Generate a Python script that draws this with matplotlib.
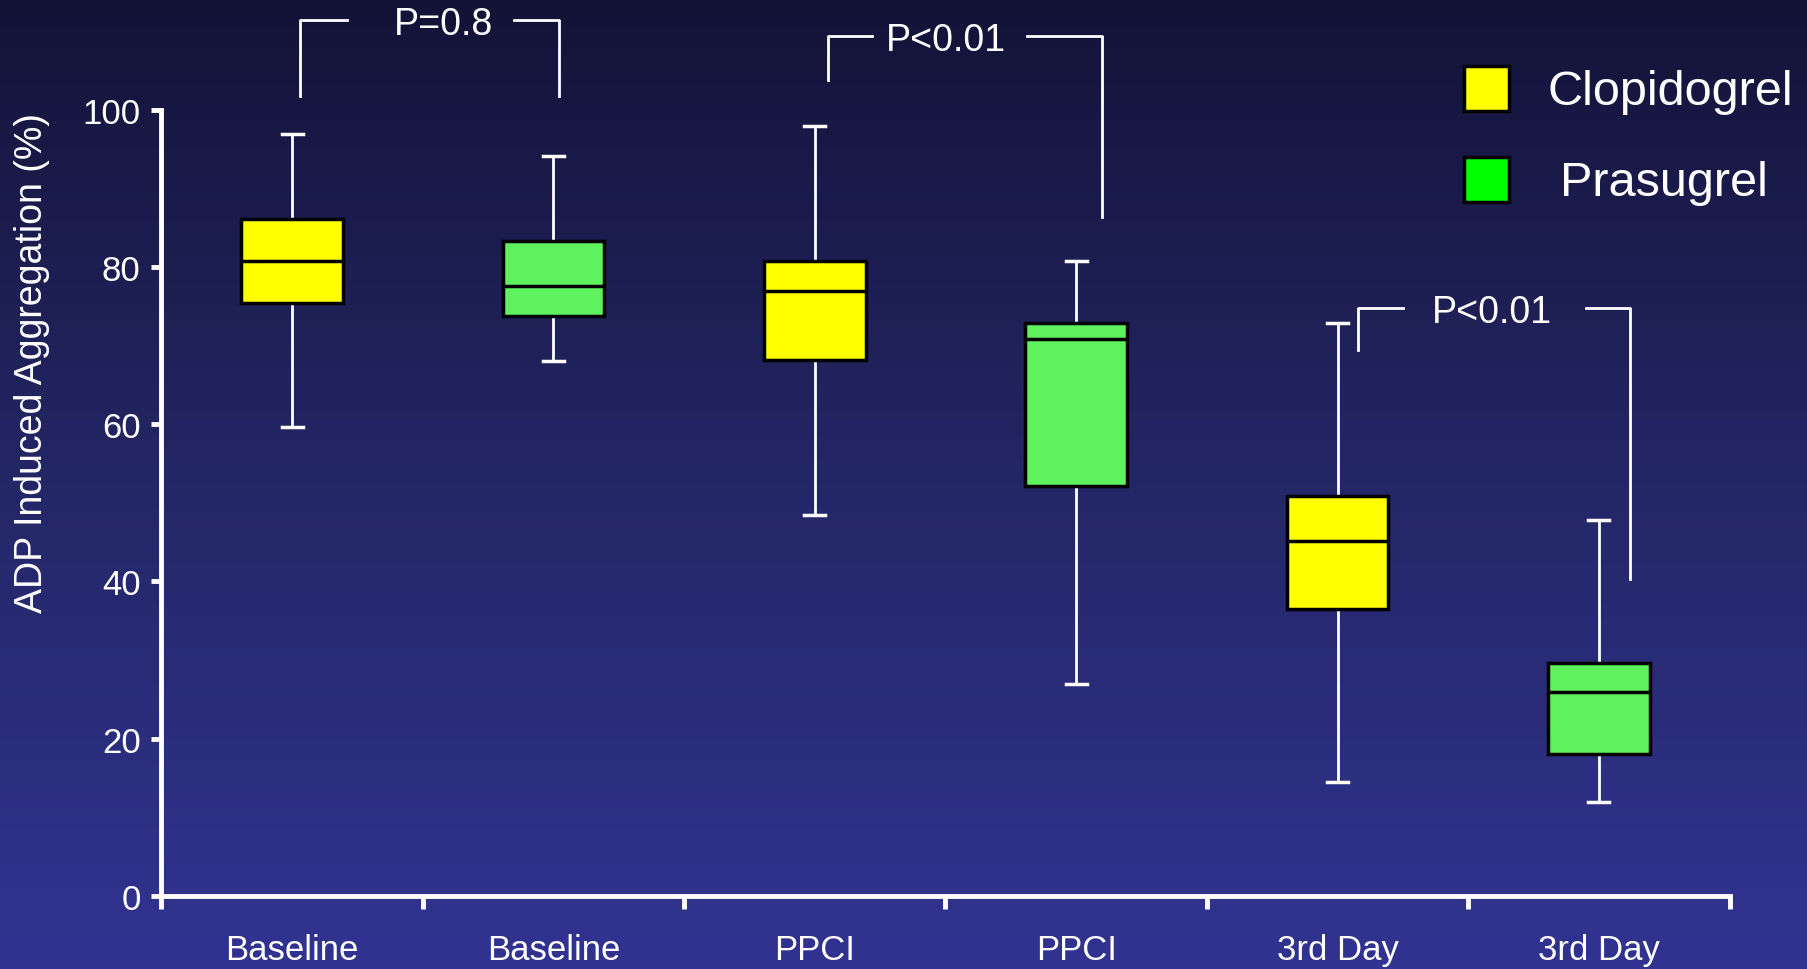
import numpy as np
import matplotlib
matplotlib.use("Agg")
import matplotlib.pyplot as plt
from matplotlib.patches import Rectangle
from matplotlib.colors import LinearSegmentedColormap

# ADP induced aggregation (%) - box plot values
categories = ['Baseline', 'Baseline', 'PPCI', 'PPCI', '3rd Day', '3rd Day']
groups = ['Clopidogrel', 'Prasugrel', 'Clopidogrel', 'Prasugrel', 'Clopidogrel', 'Prasugrel']
whislo = [59.7, 68.0, 48.5, 27.0, 14.5, 12.0]
q1 = [75.4, 73.8, 68.2, 52.1, 36.5, 18.0]
med = [80.8, 77.6, 77.0, 70.8, 45.2, 26.0]
q3 = [86.1, 83.3, 80.8, 72.9, 50.9, 29.6]
whishi = [96.9, 94.1, 97.9, 80.8, 72.9, 47.8]

# p-value brackets
p_labels = ['P=0.8', 'P<0.01', 'P<0.01']
p_left = [0.03, 2.05, 4.08]
p_right = [1.02, 3.10, 5.12]
p_text_x = [0.58, 2.50, 4.59]
p_gap_left = [0.21, 2.22, 4.25]
p_gap_right = [0.85, 2.81, 4.95]
p_top = [111.4, 109.4, 74.8]
p_left_foot = [101.8, 103.8, 69.4]
p_right_foot = [101.8, 86.4, 40.3]

box_colors = {'Clopidogrel': '#ffff00', 'Prasugrel': '#5ef25e'}
legend_colors = {'Clopidogrel': '#ffff00', 'Prasugrel': '#00ff00'}

font = ['Liberation Sans', 'DejaVu Sans']

fig = plt.figure(figsize=(18.08, 9.7), dpi=100)

# gradient background
bg = fig.add_axes([0, 0, 1, 1], zorder=-10)
cmap = LinearSegmentedColormap.from_list('bg', ['#131338', '#242766', '#323392'])
grad = np.linspace(0, 1, 256).reshape(-1, 1)
bg.imshow(grad, aspect='auto', cmap=cmap, extent=[0, 1, 0, 1], origin='upper')
bg.axis('off')

ax = fig.add_axes([0.0893, 0.0753, 0.8673, 0.8106])
ax.set_facecolor('none')

stats = []
for i in range(len(categories)):
    stats.append({'whislo': whislo[i], 'q1': q1[i], 'med': med[i],
                  'q3': q3[i], 'whishi': whishi[i], 'fliers': []})

bp = ax.bxp(stats, positions=range(len(categories)), widths=0.39,
            patch_artist=True, showfliers=False,
            boxprops=dict(edgecolor='black', linewidth=2.5),
            medianprops=dict(color='black', linewidth=2.5),
            whiskerprops=dict(color='white', linewidth=2),
            capprops=dict(color='white', linewidth=2.5),
            capwidths=0.08)
for patch, g in zip(bp['boxes'], groups):
    patch.set_facecolor(box_colors[g])
for w in bp['whiskers']:
    w.set_zorder(1)

ax.set_xlim(-0.5, len(categories) - 0.5)
ax.set_ylim(0, 100)
ax.set_yticks([0, 20, 40, 60, 80, 100])
ax.set_xticks(np.arange(-0.5, len(categories), 1.0))
ax.set_xticklabels([])
ax.set_xticks(range(len(categories)), minor=True)
ax.set_xticklabels(categories, minor=True, color='white', fontsize=25, family=font)
ax.tick_params(axis='x', which='minor', length=0, pad=27)
ax.tick_params(axis='x', which='major', length=9, width=3.5, color='white', direction='out')
ax.tick_params(axis='y', length=7, width=3.5, color='white', labelcolor='white',
               labelsize=25, pad=8)
for lbl in ax.get_yticklabels():
    lbl.set_family(font)

for side in ['top', 'right']:
    ax.spines[side].set_visible(False)
for side in ['left', 'bottom']:
    ax.spines[side].set_color('white')
    ax.spines[side].set_linewidth(3.5)

ax.set_ylabel('ADP Induced Aggregation (%)', color='white', fontsize=27, family=font)
ax.yaxis.set_label_coords(-0.071, 0.679)

# p-value brackets
for i, lab in enumerate(p_labels):
    kw = dict(color='white', linewidth=2, clip_on=False)
    ax.plot([p_left[i], p_left[i], p_gap_left[i]],
            [p_left_foot[i], p_top[i], p_top[i]], **kw)
    ax.plot([p_gap_right[i], p_right[i], p_right[i]],
            [p_top[i], p_top[i], p_right_foot[i]], **kw)
    ax.text(p_text_x[i], p_top[i] - 0.5, lab, color='white', fontsize=27,
            ha='center', va='center', clip_on=False, family=font)

# legend
legend_x = [0.856, 0.863]
for k, g in enumerate(['Clopidogrel', 'Prasugrel']):
    y0 = 0.8845 - k * 0.0938
    fig.patches.append(Rectangle((0.8099, y0), 0.0249, 0.0464, transform=fig.transFigure,
                                 facecolor=legend_colors[g], edgecolor='black',
                                 linewidth=2.5))
    fig.text(legend_x[k], y0 + 0.020, g, color='white', fontsize=35,
             family=font, va='center', ha='left')

fig.savefig('out.png', dpi=100)
